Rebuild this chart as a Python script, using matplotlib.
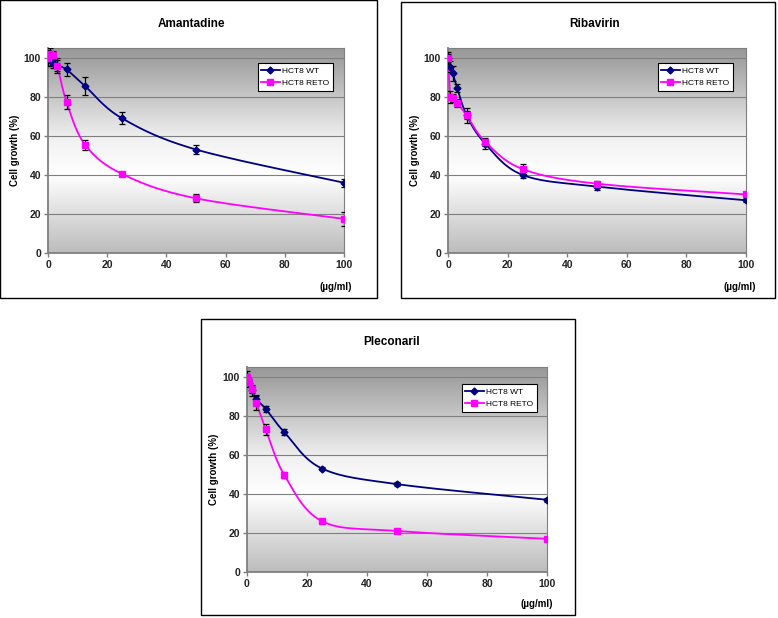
import numpy as np
import matplotlib
matplotlib.use("Agg")
import matplotlib.pyplot as plt
from matplotlib.patches import Rectangle
from matplotlib.colors import LinearSegmentedColormap

plt.rcParams['font.family'] = ['Liberation Sans', 'DejaVu Sans']

# ---------------- data ----------------
conc = [0, 0.78, 1.56, 3.125, 6.25, 12.5, 25, 50, 100]

aman_wt = [100, 99, 97.5, 96, 94, 85.5, 69, 53, 36]
aman_wt_err = [4, 3, 2.5, 3, 3.5, 4.5, 3, 2.5, 2]
aman_reto = [100, 102, 101.5, 96, 77.5, 55.5, 40.5, 28, 17.5]
aman_reto_err = [2, 3, 2, 4, 3.5, 2.5, 1, 2, 3.5]

riba_wt = [100, 95.5, 92, 84.5, 70.5, 56, 40, 34, 27]
riba_wt_err = [3, 3, 4, 2, 4, 2.5, 1.5, 1.5, 1]
riba_reto = [100, 80, 79.5, 77, 70.5, 57, 43, 35.5, 30]
riba_reto_err = [2, 3, 2, 2, 2, 2, 2.5, 1.5, 1]

plec_wt = [100, 97, 93, 88.5, 83.5, 71.5, 53, 45, 37]
plec_wt_err = [3, 2, 3, 2, 1.5, 1.5, 1, 1, 1]
plec_reto = [100, 97.5, 93.5, 86.5, 73, 49.5, 26, 21, 17]
plec_reto_err = [1.5, 1.5, 2, 3.5, 3, 1.5, 1, 1, 1]

titles = ["Amantadine", "Ribavirin", "Pleconaril"]
series_names = ["HCT8 WT", "HCT8 RETO"]
x_unit = "(µg/ml)"
y_label = "Cell growth (%)"

W, H = 778, 618
fig = plt.figure(figsize=(W / 100, H / 100), dpi=100)
fig.patch.set_facecolor('white')


def fx(px):
    return px / W


def fy(py):
    return 1 - py / H


def smooth(xs, ys, xr=100.0, yr=105.0, aspect=0.69):
    # Bezier smoothing (Catmull-Rom style) done in normalized space
    X = np.array(xs, float) / xr
    Y = np.array(ys, float) / yr * aspect
    P = np.column_stack([X, Y])
    n = len(P)
    out = []
    t = np.linspace(0, 1, 30)
    for i in range(n - 1):
        p0 = P[i - 1] if i > 0 else P[i]
        p1 = P[i]
        p2 = P[i + 1]
        p3 = P[i + 2] if i + 2 < n else P[i + 1]
        c1 = p1 + (p2 - p0) / 6.0
        c2 = p2 - (p3 - p1) / 6.0
        seg = ((1 - t) ** 3)[:, None] * p1 + (3 * (1 - t) ** 2 * t)[:, None] * c1 \
            + (3 * (1 - t) * t ** 2)[:, None] * c2 + (t ** 3)[:, None] * p2
        out.append(seg if i == 0 else seg[1:])
    S = np.vstack(out)
    return S[:, 0] * xr, S[:, 1] / aspect * yr


cmap = LinearSegmentedColormap.from_list(
    "bg", [(0.0, "#bcbcbc"), (0.38, "#ffffff"), (0.55, "#f2f2f2"), (1.0, "#979797")])


def panel(box, axpx, title, title_xy, unit_xy, wt, wt_err, reto, reto_err, leg_px):
    bx0, by0, bx1, by1 = box
    fig.patches.append(Rectangle((fx(bx0), fy(by1)), fx(bx1 - bx0), (by1 - by0) / H,
                                 transform=fig.transFigure, fill=False,
                                 edgecolor='black', linewidth=1.0, zorder=0))
    l, t_, r, b = axpx
    ax = fig.add_axes([fx(l), fy(b), fx(r - l), (b - t_) / H])
    ax.set_xlim(0, 100)
    ax.set_ylim(0, 105)
    grad = np.linspace(0, 1, 256).reshape(-1, 1)
    ax.imshow(grad, aspect='auto', cmap=cmap, origin='lower',
              extent=[0, 100, 0, 105], zorder=0)
    for yv in [20, 40, 60, 80, 100]:
        ax.axhline(yv, color='#7f7f7f', linewidth=0.8, zorder=1)

    for ys, es, col, mk, ms, name in [
            (wt, wt_err, '#000080', 'D', 3.5, series_names[0]),
            (reto, reto_err, '#ff00ff', 's', 4, series_names[1])]:
        sx, sy = smooth(conc, ys)
        ax.plot(sx, sy, color=col, linewidth=1.3, zorder=3)
        ax.errorbar(conc, ys, yerr=es, fmt='none', ecolor='black',
                    elinewidth=0.9, capsize=2.5, capthick=0.9, zorder=4)
        ax.plot(conc, ys, linestyle='none', marker=mk, markersize=ms,
                color=col, markeredgecolor=col, zorder=5)
        ax.plot([], [], color=col, marker=mk, markersize=ms, linewidth=1.3, label=name)

    for s in ['left', 'bottom']:
        ax.spines[s].set_color('#7f7f7f')
        ax.spines[s].set_linewidth(1.3)
    for s in ['top', 'right']:
        ax.spines[s].set_color('#7f7f7f')
        ax.spines[s].set_linewidth(0.8)
    ax.set_xticks([0, 20, 40, 60, 80, 100])
    ax.set_yticks([0, 20, 40, 60, 80, 100])
    ax.tick_params(direction='out', length=3, width=1, color='#7f7f7f',
                   labelsize=7.5, pad=2)
    for lab in ax.get_xticklabels() + ax.get_yticklabels():
        lab.set_fontweight('bold')
        lab.set_color('#222222')

    ax.set_ylabel(y_label, fontsize=7, fontweight='bold', labelpad=3)

    fig.text(fx(title_xy[0]), fy(title_xy[1]), title, ha='center', va='center',
             fontsize=8.5, fontweight='bold')
    fig.text(fx(unit_xy[0]), fy(unit_xy[1]), x_unit, ha='right', va='center',
             fontsize=7, fontweight='bold')

    lx0, ly0, lx1, ly1 = leg_px
    ax_w, ax_h = r - l, b - t_
    leg = ax.legend(loc='upper right',
                    bbox_to_anchor=((lx1 - l) / ax_w, (b - ly0) / ax_h),
                    fontsize=6, frameon=True, fancybox=False, framealpha=1,
                    edgecolor='black', handlelength=2.2, borderpad=0.45,
                    labelspacing=0.55, handletextpad=0.3, borderaxespad=0)
    leg.get_frame().set_linewidth(0.8)
    return ax


panel((0, 0, 377, 298), (48, 48, 344, 253), titles[0], (191, 24), (352, 287),
      aman_wt, aman_wt_err, aman_reto, aman_reto_err, (263, 63, 333, 93))
panel((401, 2, 775, 298), (448, 48, 746, 253), titles[1], (595, 24), (756, 287),
      riba_wt, riba_wt_err, riba_reto, riba_reto_err, (666, 63, 733, 93))
panel((201, 319, 575, 615), (247, 367, 547, 572), titles[2], (392, 342), (553, 604),
      plec_wt, plec_wt_err, plec_reto, plec_reto_err, (467, 384, 537, 414))

fig.savefig("out.png", dpi=100)
